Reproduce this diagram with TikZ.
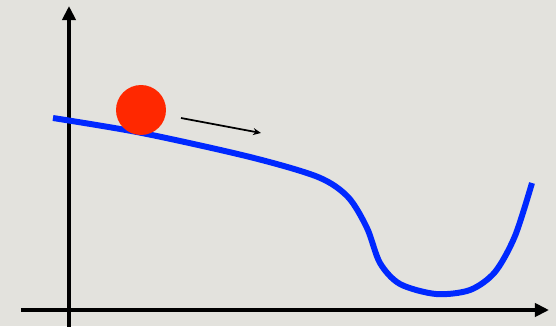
\documentclass[tikz,border=0pt]{standalone}
\usepackage{tikz}
\usetikzlibrary{arrows.meta}
\definecolor{paper}{RGB}{227,226,221}
\definecolor{ballred}{RGB}{255,40,0}
\definecolor{trackblue}{RGB}{0,40,255}

\begin{document}
\begin{tikzpicture}[x=0.02cm,y=-0.02cm,
  axis/.style={-{Triangle[length=8pt,width=7.5pt]},line width=2.5pt,black},
  track/.style={trackblue,line width=3.4pt},
  ball/.style={circle,fill=ballred,inner sep=0pt,minimum size=1cm},
  push/.style={-{Stealth[length=4.5pt,width=4pt]},line width=1pt,black}]

  % background
  \fill[paper] (0,0) rectangle (556,326);
  \useasboundingbox (0,0) rectangle (556,326);

  % axes
  \coordinate (ya) at (69,330);
  \coordinate (yb) at (69,6);
  \coordinate (xa) at (21,310);
  \coordinate (xb) at (549,310);
  \draw[axis] (ya) -- (yb);
  \draw[axis] (xa) -- (xb);

  % slope with a dip
  \draw[track] plot[smooth,tension=0.5] coordinates {
    (53,118) (142,133) (250,157) (318,177) (348,197) (367,228)
    (380,263) (400,284) (436,294) (470,290) (495,272) (515,236)
    (532,183)};

  \node[ball] (B) at (141,110) {};

  \coordinate (p1) at (181,118);
  \coordinate (p2) at (261,133);
  \draw[push] (p1) -- (p2);
\end{tikzpicture}
\end{document}
